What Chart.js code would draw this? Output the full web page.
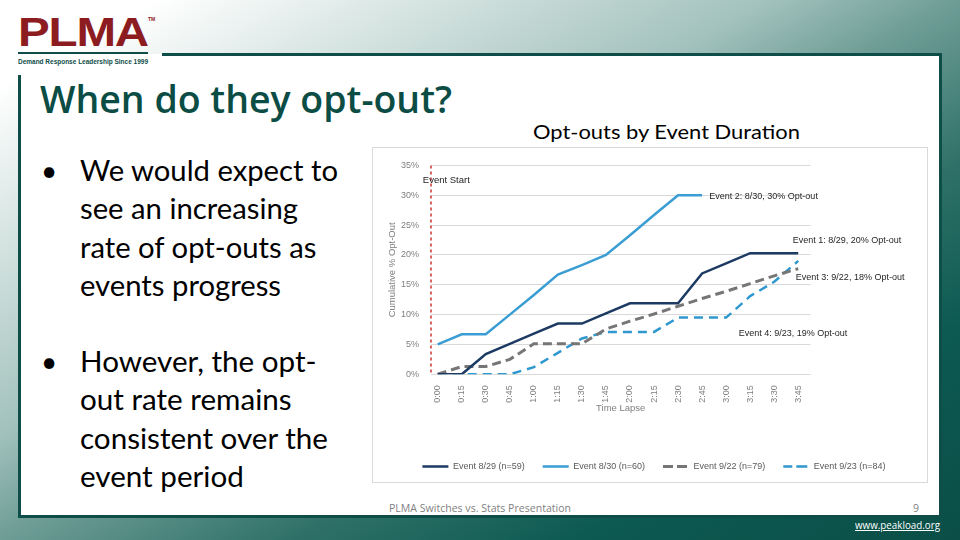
<!DOCTYPE html>
<html>
<head>
<meta charset="utf-8">
<script src="https://cdn.jsdelivr.net/npm/chart.js@4.4.1/dist/chart.umd.min.js"></script>
<style>
  html, body { margin: 0; padding: 0; }
  body {
    width: 960px; height: 540px; overflow: hidden; position: relative;
    background: linear-gradient(to bottom right, #ffffff 0%, #ffffff 8%, #e2ecea 18%, #a3c2bd 40%, #6e9d96 50%, #2f7168 65%, #0d5a52 80%, #0a4e47 100%);
    font-family: 'Lato', sans-serif;
  }
  .abs { position: absolute; white-space: nowrap; transform-origin: left top; }
  .panel { position: absolute; left: 19px; top: 54px; width: 920px; height: 461px; background: #fff;
    border-right: 3px solid #0f4e48; border-bottom: 3px solid #0f4e48; }
  .line { position: absolute; background: #0f4e48; }
  .title { left: 40px; top: 79px; font-family: 'Open Sans', sans-serif; font-size: 38px; line-height: 38px; font-weight: 600; color: #0b4d45; }
  .bullet { font-size: 28px; line-height: 38.3px; color: #000; }
  .dot { font-size: 28px; line-height: 38.3px; color: #000; }
  .chartbox { position: absolute; left: 372px; top: 147px; width: 554px; height: 334px; border: 1px solid #d9d9d9; background: #fff; }
  .ctitle { left: 533px; top: 120px; font-size: 19px; line-height: 24px; color: #000; }
  .foot { font-family: 'Open Sans', sans-serif; font-size: 10.5px; line-height: 14px; color: #7f7f7f; }
</style>
</head>
<body>
<div class="panel"></div>
<div class="line" style="left:162px; top:53px; width:780px; height:3px;"></div>
<div class="line" style="left:18px; top:75px; width:3px; height:443px;"></div>

<!-- logo -->
<div class="abs" data-w="130" style="left:18px; top:12px; font-family:'Liberation Sans', sans-serif; font-weight:700; font-size:40px; line-height:40px; color:#8c1c1f; letter-spacing:-1px;">PLMA</div>
<div class="abs" style="left:148px; top:17px; font-family:'Liberation Sans', sans-serif; font-weight:700; font-size:5px; line-height:5px; color:#8c1c1f;">TM</div>
<div class="line" style="left:18px; top:52px; width:130px; height:2px;"></div>
<div class="abs" data-w="130" style="left:18px; top:58px; font-family:'Liberation Sans', sans-serif; font-weight:700; font-size:7px; line-height:8px; color:#0f4e48;">Demand Response Leadership Since 1999</div>

<div class="abs title" data-w="412">When do they opt-out?</div>

<div class="abs dot" style="left:41px; top:151px;">•</div>
<div class="abs bullet" data-w="258" style="left:80px; top:151px;">We would expect to<br>see an increasing<br>rate of opt-outs as<br>events progress</div>
<div class="abs dot" style="left:41px; top:342px;">•</div>
<div class="abs bullet" data-w="248" style="left:80px; top:342px;">However, the opt-<br>out rate remains<br>consistent over the<br>event period</div>

<div class="abs ctitle" data-w="267">Opt-outs by Event Duration</div>

<div class="chartbox"><canvas id="chart" width="554" height="334"></canvas></div>

<div class="abs foot" data-w="182" style="left:389px; top:501px;">PLMA Switches vs. Stats Presentation</div>
<div class="abs foot" style="left:913px; top:501px;">9</div>
<div class="abs foot" data-w="85" style="left:855px; top:518px; color:#fff; text-decoration:underline;">www.peakload.org</div>

<script>
// time since event start
const times = ['0:00', '0:15', '0:30', '0:45', '1:00', '1:15', '1:30', '1:45',
               '2:00', '2:15', '2:30', '2:45', '3:00', '3:15', '3:30', '3:45'];

// cumulative % opt-out per event
const ev0829 = [0, 0, 3.4, 5.1, 6.8, 8.5, 8.5, 10.2, 11.9, 11.9, 11.9, 16.9, 18.6, 20.3, 20.3, 20.3];
const ev0830 = [5.0, 6.7, 6.7, 10.0, 13.3, 16.7, 18.3, 20.0, 23.3, 26.7, 30.0, 30.0];
const ev0922 = [0, 1.3, 1.3, 2.5, 5.1, 5.1, 5.1, 7.6, 8.9, 10.1, 11.4, 12.7, 13.9, 15.2, 16.5, 17.7];
const ev0923 = [0, 0, 0, 0, 1.2, 3.6, 6.0, 7.1, 7.1, 7.1, 9.5, 9.5, 9.5, 13.1, 15.5, 19.0];

const seriesNames = ['Event 8/29 (n=59)', 'Event 8/30 (n=60)', 'Event 9/22 (n=79)', 'Event 9/23 (n=84)'];

// text labels placed in data units (x = slot index, y = %)
const notes = [
    { text: 'Event Start', x: -0.62, y: 32.55, size: 9.5 },
    { text: 'Event 2: 8/30, 30% Opt-out', x: 11.30, y: 29.83, size: 9 },
    { text: 'Event 1: 8/29, 20% Opt-out', x: 14.77, y: 22.4, size: 9 },
    { text: 'Event 3: 9/22, 18% Opt-out', x: 14.90, y: 16.17, size: 9 },
    { text: 'Event 4: 9/23, 19% Opt-out', x: 12.52, y: 6.86, size: 9 }
];

// squeeze text to the width it has on the slide
document.querySelectorAll('[data-w]').forEach(el => {
    const w = el.getBoundingClientRect().width;
    el.style.transform = 'scaleX(' + (el.dataset.w / w) + ')';
});

function points(arr) {
    return arr.map((v, i) => ({ x: i, y: v }));
}

const notesPlugin = {
    id: 'notes',
    beforeDatasetsDraw(chart) {
        // dashed "event start" marker along the left edge of the plot
        const { ctx, chartArea } = chart;
        ctx.save();
        ctx.strokeStyle = '#c00000';
        ctx.lineWidth = 1.2;
        ctx.setLineDash([3, 3]);
        ctx.beginPath();
        ctx.moveTo(chartArea.left, chartArea.top);
        ctx.lineTo(chartArea.left, chartArea.bottom);
        ctx.stroke();
        ctx.restore();
    },
    afterDatasetsDraw(chart) {
        const ctx = chart.ctx;
        const xs = chart.scales.x, ys = chart.scales.y;
        ctx.save();
        ctx.fillStyle = '#262626';
        ctx.textAlign = 'left';
        ctx.textBaseline = 'middle';
        notes.forEach(n => {
            ctx.font = n.size + 'px "Liberation Sans", Arial, sans-serif';
            ctx.fillText(n.text, xs.getPixelForValue(n.x), ys.getPixelForValue(n.y));
        });
        ctx.restore();
    }
};

const tickFont = { family: '"Liberation Sans", Arial, sans-serif', size: 9 };

new Chart(document.getElementById('chart'), {
    type: 'line',
    data: {
        datasets: [
            { label: seriesNames[0], data: points(ev0829), borderColor: '#1d3a63', backgroundColor: '#1d3a63', borderWidth: 2.5 },
            { label: seriesNames[1], data: points(ev0830), borderColor: '#3a9dd3', backgroundColor: '#3a9dd3', borderWidth: 2.5 },
            { label: seriesNames[2], data: points(ev0922), borderColor: '#767676', backgroundColor: '#767676', borderWidth: 3, borderDash: [9, 5] },
            { label: seriesNames[3], data: points(ev0923), borderColor: '#2f98cf', backgroundColor: '#2f98cf', borderWidth: 2.5, borderDash: [9, 6] }
        ]
    },
    options: {
        responsive: false,
        animation: false,
        devicePixelRatio: 1,
        elements: { point: { radius: 0 }, line: { tension: 0, fill: false } },
        layout: { padding: { left: 8, top: 12, right: 0, bottom: 1 } },
        plugins: {
            tooltip: { enabled: false },
            legend: {
                position: 'bottom',
                labels: {
                    boxWidth: 26,
                    boxHeight: 0,
                    padding: 18,
                    color: '#595959',
                    font: tickFont
                }
            }
        },
        scales: {
            x: {
                type: 'linear',
                min: -0.279,
                max: 15.51,
                grid: { display: false },
                border: { display: false },
                ticks: {
                    stepSize: 1,
                    includeBounds: false,
                    autoSkip: false,
                    minRotation: 90,
                    maxRotation: 90,
                    padding: 3,
                    color: '#7f7f7f',
                    font: tickFont,
                    callback: v => times[v] ?? ''
                },
                title: {
                    display: true,
                    text: 'Time Lapse',
                    color: '#7f7f7f',
                    font: { family: '"Liberation Sans", Arial, sans-serif', size: 9.5 },
                    padding: { top: 0, bottom: 30 }
                },
                afterFit: s => { s.height = 69.7; }
            },
            y: {
                min: 0,
                max: 35,
                grid: { color: '#d9d9d9', drawTicks: false },
                border: { display: false },
                ticks: {
                    stepSize: 5,
                    padding: 12,
                    color: '#7f7f7f',
                    font: tickFont,
                    callback: v => v + '%'
                },
                title: {
                    display: true,
                    text: 'Cumulative % Opt-Out',
                    color: '#7f7f7f',
                    font: { family: '"Liberation Sans", Arial, sans-serif', size: 9.5 },
                    padding: { top: 6, bottom: 0 }
                },
                afterFit: s => { s.width = 50; }
            },
            pad: {
                type: 'linear',
                position: 'right',
                display: true,
                grid: { display: false },
                border: { display: false },
                ticks: { display: false },
                afterFit: s => { s.width = 116.5; }
            }
        }
    },
    plugins: [notesPlugin]
});
</script>
</body>
</html>
